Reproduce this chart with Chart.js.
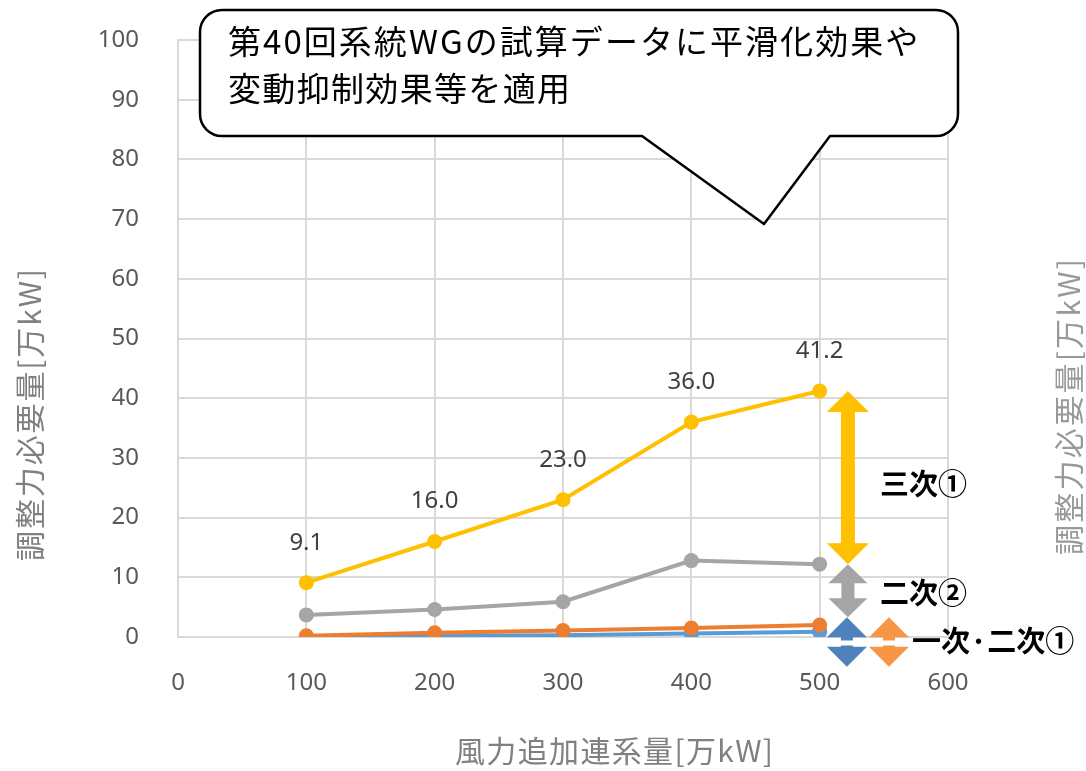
<!DOCTYPE html>
<html>
<head>
<meta charset="utf-8">
<script src="https://cdn.jsdelivr.net/npm/chart.js@4"></script>
<style>
  html, body { margin: 0; padding: 0; background: #fff; }
  #wrap { width: 1086px; height: 771px; }
</style>
</head>
<body>
<div id="wrap"><canvas id="myChart" width="1086" height="771"></canvas></div>
<script>
// 風力追加連系量 [万kW]
const windAdded = [100, 200, 300, 400, 500];
// 調整力必要量 [万kW]
const tertiary1 = [9.1, 16.0, 23.0, 36.0, 41.2];   // 三次①
const secondary2 = [3.7, 4.6, 5.9, 12.8, 12.2];    // 二次②
const primaryOrange = [0.2, 0.7, 1.1, 1.5, 2.0];   // 一次・二次①
const primaryBlue = [0.0, 0.2, 0.3, 0.6, 0.9];

const xTicks = [0, 100, 200, 300, 400, 500, 600];
const yTicks = [0, 10, 20, 30, 40, 50, 60, 70, 80, 90, 100];

const yTitle = '調整力必要量[万kW]';
const xTitle = '風力追加連系量[万kW]';
const noteLines = ['第40回系統WGの試算データに平滑化効果や', '変動抑制効果等を適用'];

const cjk = '"Noto Sans CJK JP", "Noto Sans", sans-serif';
const digits = '"Noto Sans", sans-serif';

function pts(vals) {
  return windAdded.map((x, i) => ({x: x, y: vals[i]}));
}

function line(label, vals, color, order) {
  return {
    label: label,
    data: pts(vals),
    borderColor: color,
    backgroundColor: color,
    borderWidth: 4,
    pointRadius: 7.5,
    pointHoverRadius: 7.5,
    pointBorderWidth: 0,
    order: order
  };
}

// double headed arrow, vertical
function dblArrow(ctx, cx, top, bot, hw, hl, sw, color) {
  ctx.beginPath();
  ctx.moveTo(cx, top);
  ctx.lineTo(cx + hw, top + hl);
  ctx.lineTo(cx + sw, top + hl);
  ctx.lineTo(cx + sw, bot - hl);
  ctx.lineTo(cx + hw, bot - hl);
  ctx.lineTo(cx, bot);
  ctx.lineTo(cx - hw, bot - hl);
  ctx.lineTo(cx - sw, bot - hl);
  ctx.lineTo(cx - sw, top + hl);
  ctx.lineTo(cx - hw, top + hl);
  ctx.closePath();
  ctx.fillStyle = color;
  ctx.fill();
}

// text spread to a given width, starting at x
function spreadText(ctx, text, x, y, width) {
  const chars = Array.from(text);
  const natural = ctx.measureText(text).width;
  const gap = (width - natural) / (chars.length - 1);
  let cx = x;
  ctx.textAlign = 'left';
  chars.forEach(ch => {
    ctx.fillText(ch, cx, y);
    cx += ctx.measureText(ch).width + gap;
  });
}

const overlay = {
  id: 'overlay',
  afterDatasetsDraw(chart) {
    const ctx = chart.ctx;
    const xs = chart.scales.x, ys = chart.scales.y;
    ctx.save();

    // value labels on 三次①
    const meta = chart.getDatasetMeta(0);
    ctx.font = '24px ' + digits;
    ctx.fillStyle = '#404040';
    ctx.textAlign = 'center';
    ctx.textBaseline = 'middle';
    meta.data.forEach((p, i) => {
      ctx.fillText(tertiary1[i].toFixed(1), p.x, p.y - 40);
    });

    // bracket arrows beside the 500 column
    const last = windAdded.length - 1;
    const ax = xs.getPixelForValue(522);
    const bx = xs.getPixelForValue(554);
    const yTop = ys.getPixelForValue(tertiary1[last]);
    const yMid = ys.getPixelForValue(secondary2[last]);
    const yLow = ys.getPixelForValue(3.3);
    const yBot = ys.getPixelForValue(-5);

    dblArrow(ctx, ax, yTop, yMid, 21, 21, 7, '#FFC000');
    dblArrow(ctx, ax, yMid, yLow, 19.5, 19, 6.5, '#A5A5A5');
    dblArrow(ctx, ax - 1, yLow, yBot, 20, 20, 6, '#4F81BD');
    dblArrow(ctx, bx, yLow, yBot, 20, 20, 6, '#F79646');

    const yWhite = ys.getPixelForValue(-1);
    ctx.strokeStyle = '#ffffff';
    ctx.lineWidth = 5;
    ctx.beginPath();
    ctx.moveTo(ax - 24, yWhite);
    ctx.lineTo(bx + 24, yWhite);
    ctx.stroke();

    ctx.font = 'bold 29px ' + cjk;
    ctx.fillStyle = '#000';
    ctx.textAlign = 'left';
    ctx.textBaseline = 'middle';
    ctx.fillText('三次①', ax + 32, (yTop + yMid) / 2 + 6);
    ctx.fillText('二次②', ax + 32, (yMid + yLow) / 2 + 2);
    ctx.fillText('一次·二次①', bx + 23, (yLow + yBot) / 2 - 1);
    ctx.restore();
  },
  afterDraw(chart) {
    const ctx = chart.ctx;
    ctx.save();

    // axis titles
    ctx.font = '30px ' + cjk;
    ctx.textBaseline = 'middle';
    ctx.fillStyle = '#808080';
    spreadText(ctx, xTitle, 455, 751, 318);

    ctx.save();
    ctx.translate(30, 415);
    ctx.rotate(-Math.PI / 2);
    spreadText(ctx, yTitle, -146, 0, 292);
    ctx.restore();

    ctx.save();
    ctx.fillStyle = '#999999';
    ctx.translate(1069, 407);
    ctx.rotate(-Math.PI / 2);
    spreadText(ctx, yTitle, -148, 0, 296);
    ctx.restore();

    // callout box
    const L = 200, T = 10, R = 958, B = 136, r = 22;
    ctx.beginPath();
    ctx.moveTo(L + r, T);
    ctx.lineTo(R - r, T);
    ctx.arcTo(R, T, R, T + r, r);
    ctx.lineTo(R, B - r);
    ctx.arcTo(R, B, R - r, B, r);
    ctx.lineTo(830, B);
    ctx.lineTo(764, 224);
    ctx.lineTo(642, B);
    ctx.lineTo(L + r, B);
    ctx.arcTo(L, B, L, B - r, r);
    ctx.lineTo(L, T + r);
    ctx.arcTo(L, T, L + r, T, r);
    ctx.closePath();
    ctx.fillStyle = '#fff';
    ctx.fill();
    ctx.strokeStyle = '#000';
    ctx.lineWidth = 2.5;
    ctx.lineJoin = 'round';
    ctx.stroke();

    ctx.font = '33px ' + cjk;
    ctx.fillStyle = '#000';
    ctx.textBaseline = 'middle';
    spreadText(ctx, noteLines[0], 228, 41, 690);
    spreadText(ctx, noteLines[1], 228, 88, 342);
    ctx.restore();
  }
};

const ctx = document.getElementById('myChart');

const chart = new Chart(ctx, {
  type: 'line',
  data: {
    datasets: [
      line('三次①', tertiary1, '#FFC000', 4),
      line('二次②', secondary2, '#A5A5A5', 3),
      line('一次・二次①', primaryOrange, '#ED7D31', 1),
      line('一次・二次①', primaryBlue, '#5B9BD5', 2)
    ]
  },
  options: {
    responsive: false,
    animation: false,
    layout: {padding: {left: 0, top: 40, right: 138, bottom: 0}},
    plugins: {legend: {display: false}, tooltip: {enabled: false}},
    scales: {
      x: {
        type: 'linear',
        min: 0, max: 600,
        afterBuildTicks: s => { s.ticks = xTicks.map(v => ({value: v})); },
        afterFit: s => { s.height = 134; },
        grid: {color: '#d9d9d9', lineWidth: 2, drawTicks: false},
        border: {color: '#d9d9d9', width: 2},
        ticks: {font: {family: digits, size: 24}, color: '#595959', padding: 32, maxRotation: 0}
      },
      y: {
        min: 0, max: 100,
        afterBuildTicks: s => { s.ticks = yTicks.map(v => ({value: v})); },
        afterFit: s => { s.width = 178; s.paddingTop = 0; s.paddingBottom = 0; },
        grid: {color: '#d9d9d9', lineWidth: 2, drawTicks: false},
        border: {color: '#d9d9d9', width: 2},
        ticks: {font: {family: digits, size: 24}, color: '#595959', padding: 39}
      }
    }
  },
  plugins: [overlay]
});
</script>
</body>
</html>
